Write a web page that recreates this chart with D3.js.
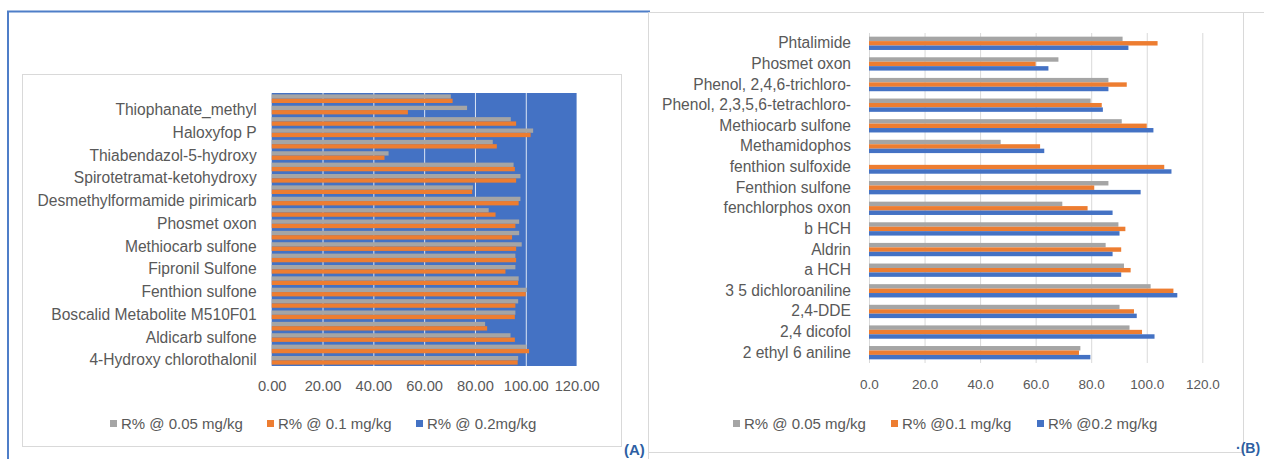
<!DOCTYPE html>
<html>
<head>
<meta charset="utf-8">
<script src="https://cdn.jsdelivr.net/npm/d3@7"></script>
<style>
  body { margin: 0; background: #fff; }
  svg text { font-family: "Liberation Sans", Arial, sans-serif; fill: #595959; }
</style>
</head>
<body>
<svg></svg>
<script>
// ---- panel (A): categories listed top to bottom, "" = label skipped by the axis
const catsA = ["", "Thiophanate_methyl", "", "Haloxyfop P", "", "Thiabendazol-5-hydroxy",
  "", "Spirotetramat-ketohydroxy", "", "Desmethylformamide pirimicarb", "", "Phosmet oxon",
  "", "Methiocarb sulfone", "", "Fipronil Sulfone", "", "Fenthion sulfone",
  "", "Boscalid Metabolite M510F01", "", "Aldicarb sulfone", "", "4-Hydroxy chlorothalonil"]
const a005 = [70.5, 76.9, 94.1, 102.9, 87.0, 46.0, 95.2, 97.9, 79.2, 97.9, 85.4, 97.4,
  97.4, 98.4, 95.9, 95.9, 97.2, 100.5, 97.0, 95.9, 84.0, 94.0, 100.3, 97.0]
const a01 = [71.2, 53.6, 96.2, 101.9, 88.6, 44.4, 95.7, 96.2, 78.9, 97.2, 88.1, 95.9,
  94.6, 96.2, 96.2, 92.0, 97.0, 100.0, 95.9, 95.7, 84.8, 95.7, 101.3, 96.8]
const legendA = ["R% @ 0.05 mg/kg", "R% @ 0.1 mg/kg", "R% @ 0.2mg/kg"]

// ---- panel (B)
const catsB = ["Phtalimide", "Phosmet oxon", "Phenol, 2,4,6-trichloro-", "Phenol, 2,3,5,6-tetrachloro-",
  "Methiocarb sulfone", "Methamidophos", "fenthion sulfoxide", "Fenthion sulfone",
  "fenchlorphos oxon", "b HCH", "Aldrin", "a HCH", "3 5 dichloroaniline", "2,4-DDE",
  "2,4 dicofol", "2 ethyl 6 aniline"]
const b005 = [91.3, 68.2, 86.2, 79.8, 91.0, 47.4, null, 86.2, 69.6, 89.8, 85.2, 91.8, 101.4, 90.2, 93.8, 76.1]
const b01 = [103.9, 60.0, 92.8, 83.8, 100.0, 61.6, 106.3, 81.1, 78.7, 92.3, 90.8, 94.2, 109.6, 95.4, 98.3, 75.6]
const b02 = [93.4, 64.6, 86.2, 84.2, 102.4, 63.1, 108.9, 97.8, 87.7, 90.2, 87.7, 90.8, 111.0, 96.4, 102.8, 79.7]
const legendB = ["R% @ 0.05 mg/kg", "R% @0.1 mg/kg", "R% @0.2 mg/kg"]

const xTicks = [0, 20, 40, 60, 80, 100, 120]
const colors = ["#a5a5a5", "#ed7d31", "#4472c4"]

const width = 1264, height = 459
const svg = d3.select("svg").attr("width", width).attr("height", height)

// page frame + chart boxes
svg.append("path").attr("d", "M8,459 V11.5 H650").attr("fill", "none")
  .attr("stroke", "#4f7ec8").attr("stroke-width", 2)
svg.append("rect").attr("x", 22.5).attr("y", 74.5).attr("width", 599).attr("height", 372)
  .attr("fill", "#fff").attr("stroke", "#d9d9d9")
svg.append("path").attr("d", "M648.5,459 V12.5 H1264 M1243.5,12.5 V452.5 H648.5")
  .attr("fill", "none").attr("stroke", "#d9d9d9")

function drawPanel(o) {
  const g = svg.append("g")
  const x = d3.scaleLinear().domain([0, 120]).range(o.xr)
  const y = d3.scaleBand().domain(d3.range(o.cats.length)).range(o.yr).paddingInner(o.pad).paddingOuter(o.pad / 2)
  const ys = d3.scaleBand().domain(d3.range(o.series.length)).range([0, y.bandwidth()])

  if (o.bg) g.append("rect").attr("x", o.xr[0]).attr("y", o.yr[0])
    .attr("width", o.xr[1] - o.xr[0]).attr("height", o.yr[1] - o.yr[0]).attr("fill", o.bg)

  g.selectAll(".grid").data(o.gridTicks).enter().append("line")
    .attr("x1", d => x(d) + 0.5).attr("x2", d => x(d) + 0.5)
    .attr("y1", o.yr[0]).attr("y2", o.yr[1])
    .attr("stroke", o.gridColor).attr("stroke-width", 1)

  o.series.forEach((vals, s) => {
    g.selectAll(".bar" + s).data(vals.map((v, i) => ({ v, i })).filter(d => d.v != null))
      .enter().append("rect")
      .attr("x", x(0))
      .attr("y", d => y(d.i) + ys(s))
      .attr("width", d => x(d.v) - x(0))
      .attr("height", ys.bandwidth())
      .attr("fill", colors[s])
  })

  const ax = g.append("g").attr("transform", `translate(0,${o.yr[1]})`)
    .call(d3.axisBottom(x).tickValues(xTicks).tickFormat(d3.format(o.fmt)).tickSize(0).tickPadding(o.xPad))
  ax.select(".domain").remove()
  ax.selectAll("text").style("font-size", o.xFont + "px").attr("fill", "#595959")

  const ay = g.append("g").attr("transform", `translate(${o.xr[0]},0)`)
    .call(d3.axisLeft(y).tickValues(d3.range(o.cats.length).filter(i => o.cats[i] !== ""))
      .tickFormat(i => o.cats[i]).tickSize(0).tickPadding(o.yPad))
  ay.select(".domain").remove()
  ay.selectAll("text").style("font-size", o.yFont + "px").attr("fill", "#595959")

  const lg = g.selectAll(".lg").data(o.legend).enter().append("g")
    .attr("transform", (d, i) => `translate(${o.legendX[i]},${o.legendY})`)
  lg.append("rect").attr("x", 0).attr("y", -4).attr("width", 7).attr("height", 7)
    .attr("fill", (d, i) => colors[i])
  lg.append("text").attr("x", 11).attr("dy", "0.35em").style("font-size", "15px").text(d => d)
}

drawPanel({
  cats: catsA, series: [a005, a01], xr: [271.7, 576.6], yr: [93, 366], pad: 0.24,
  bg: "#4472c4", gridColor: "#dce6f5", gridTicks: [20, 40, 60, 80, 100],
  fmt: ".2f", xFont: 14.7, xPad: 15, yFont: 15.6, yPad: 15,
  legend: legendA, legendX: [110, 267, 416], legendY: 424
})

drawPanel({
  cats: catsB, series: [b005, b01, b02], xr: [869, 1202.3], yr: [33, 363], pad: 0.355,
  bg: null, gridColor: "#d9d9d9", gridTicks: xTicks,
  fmt: ".1f", xFont: 13.5, xPad: 16, yFont: 15.6, yPad: 18,
  legend: legendB, legendX: [733, 891, 1037], legendY: 424
})

// panel letters
svg.append("text").attr("x", 624).attr("y", 455).text("(A)")
  .style("font-size", "15px").style("font-weight", "bold").style("fill", "#2e5fa3")
svg.append("text").attr("x", 1236).attr("y", 453).text("·(B)")
  .style("font-size", "14px").style("font-weight", "bold").style("fill", "#2e5fa3")
</script>
</body>
</html>
